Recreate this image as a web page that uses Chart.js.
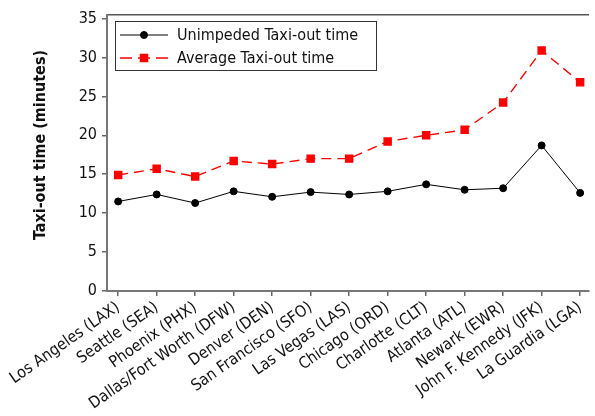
<!DOCTYPE html>
<html>
<head>
<meta charset="utf-8">
<script src="https://cdn.jsdelivr.net/npm/chart.js@4.4.0/dist/chart.umd.min.js"></script>
<style>
  html, body { margin: 0; padding: 0; background: #fff; }
  #wrap { width: 595px; height: 416px; }
</style>
</head>
<body>
<div id="wrap"><canvas id="chart" width="595" height="416"></canvas></div>
<script>
const airports = ['Los Angeles (LAX)', 'Seattle (SEA)', 'Phoenix (PHX)', 'Dallas/Fort Worth (DFW)',
  'Denver (DEN)', 'San Francisco (SFO)', 'Las Vegas (LAS)', 'Chicago (ORD)', 'Charlotte (CLT)',
  'Atlanta (ATL)', 'Newark (EWR)', 'John F. Kennedy (JFK)', 'La Guardia (LGA)'];
const unimpeded = [11.5, 12.4, 11.3, 12.8, 12.1, 12.7, 12.4, 12.8, 13.7, 13.0, 13.2, 18.7, 12.6];
const average = [14.9, 15.7, 14.7, 16.7, 16.3, 17.0, 17.0, 19.2, 20.0, 20.7, 24.2, 30.9, 26.8];
const yTicks = [0, 5, 10, 15, 20, 25, 30, 35];
const yTitle = 'Taxi-out time (minutes)';

const FONT = "'DejaVu Sans Condensed', 'DejaVu Sans', sans-serif";

function toPoints(arr) {
  return arr.map((v, i) => ({ x: i, y: v }));
}

// y title sits a bit above the plot centre in the original, so it is drawn here
const yTitlePlugin = {
  id: 'yTitlePlugin',
  afterDraw(chart) {
    const ctx = chart.ctx;
    ctx.save();
    ctx.translate(41, 145);
    ctx.rotate(-Math.PI / 2);
    ctx.fillStyle = '#111';
    ctx.font = 'bold 16px ' + FONT;
    ctx.textAlign = 'center';
    ctx.textBaseline = 'middle';
    ctx.fillText(yTitle, 0, 0);
    ctx.restore();
  }
};

// legend drawn as a framed box inside the plot, like the original
const boxLegend = {
  id: 'boxLegend',
  afterDraw(chart) {
    const ctx = chart.ctx;
    const x0 = 115, y0 = 21, w = 261, h = 49;
    ctx.save();
    ctx.fillStyle = '#fff';
    ctx.fillRect(x0, y0, w, h);
    ctx.strokeStyle = '#333';
    ctx.lineWidth = 1;
    ctx.strokeRect(x0 + 0.5, y0 + 0.5, w, h);
    chart.data.datasets.forEach((ds, i) => {
      const y = 35 + i * 23;
      ctx.strokeStyle = ds.borderColor;
      ctx.lineWidth = ds.borderWidth;
      ctx.beginPath();
      if (ds.borderDash) {
        ctx.moveTo(120, y); ctx.lineTo(132, y);
        ctx.moveTo(138, y); ctx.lineTo(150, y);
        ctx.moveTo(156, y); ctx.lineTo(168, y);
      } else {
        ctx.moveTo(120, y); ctx.lineTo(168, y);
      }
      ctx.stroke();
      Chart.helpers.drawPoint(ctx, {
        pointStyle: ds.pointStyle, radius: ds.pointRadius, borderWidth: 1
      }, 144, y);
      ctx.fillStyle = ds.pointBackgroundColor;
      ctx.fill();
      ctx.fillStyle = '#111';
      ctx.font = '16px ' + FONT;
      ctx.textBaseline = 'middle';
      ctx.fillText(ds.label, 177, y + 1);
    });
    ctx.restore();
  }
};

new Chart(document.getElementById('chart'), {
  type: 'line',
  data: {
    datasets: [
      {
        label: 'Unimpeded Taxi-out time',
        data: toPoints(unimpeded),
        borderColor: '#000',
        backgroundColor: '#000',
        pointBackgroundColor: '#000',
        pointBorderColor: '#000',
        borderWidth: 1,
        pointStyle: 'circle',
        pointRadius: 3.5,
        tension: 0
      },
      {
        label: 'Average Taxi-out time',
        data: toPoints(average),
        borderColor: '#ff0000',
        backgroundColor: '#ff0000',
        pointBackgroundColor: '#ff0000',
        pointBorderColor: '#ff0000',
        borderWidth: 1.4,
        borderDash: [10, 6],
        pointStyle: 'rect',
        pointRadius: 5,
        tension: 0
      }
    ]
  },
  options: {
    responsive: false,
    animation: false,
    events: [],
    layout: { padding: { top: 12, right: 0, bottom: 0, left: 0 } },
    plugins: { legend: { display: false }, tooltip: { enabled: false } },
    scales: {
      x: {
        type: 'linear',
        position: 'bottom',
        min: -0.29,
        max: 12.22,
        afterBuildTicks: (axis) => { axis.ticks = airports.map((a, i) => ({ value: i })); },
        afterFit: (axis) => { axis.height = 125; },
        ticks: {
          autoSkip: false,
          minRotation: 35,
          maxRotation: 35,
          padding: 2,
          color: '#111',
          font: { family: FONT, size: 16 },
          callback: (v) => airports[v]
        },
        grid: { drawOnChartArea: false, drawTicks: true, tickLength: 5, color: '#666', lineWidth: 1.5 },
        border: { display: true, color: '#777', width: 2 }
      },
      xTop: {
        type: 'linear',
        position: 'top',
        min: 0,
        max: 1,
        afterFit: (axis) => { axis.height = 0; },
        ticks: { display: false },
        grid: { display: false },
        border: { display: true, color: '#555', width: 1.5 }
      },
      y: {
        min: 0,
        max: 35.5,
        afterBuildTicks: (axis) => { axis.ticks = yTicks.map(v => ({ value: v })); },
        afterFit: (axis) => { axis.width = 107; },
        ticks: {
          padding: 5,
          color: '#111',
          font: { family: FONT, size: 16 }
        },
        grid: { drawOnChartArea: false, drawTicks: true, tickLength: 5, color: '#666', lineWidth: 1.5 },
        border: { display: true, color: '#777', width: 2 }
      }
    }
  },
  plugins: [boxLegend, yTitlePlugin]
});
</script>
</body>
</html>
